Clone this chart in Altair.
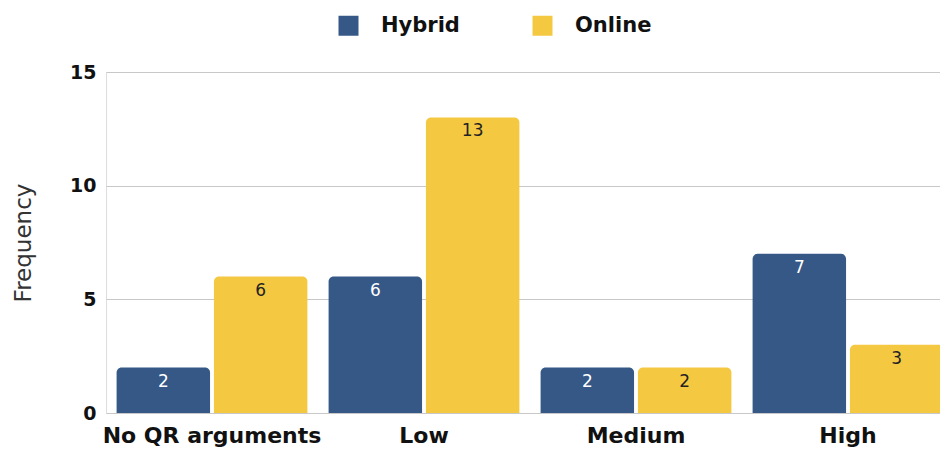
import altair as alt
import pandas as pd

categories = ["No QR arguments", "Low", "Medium", "High"]
series = ["Hybrid", "Online"]
hybrid = [2, 6, 2, 7]
online = [6, 13, 2, 3]

rows = []
for c, h, o in zip(categories, hybrid, online):
    rows.append({"cat": c, "mode": "Hybrid", "value": h})
    rows.append({"cat": c, "mode": "Online", "value": o})
df = pd.DataFrame(rows)

FONT = "DejaVu Sans"
colors = ["#355887", "#f5c842"]

x = alt.X("cat:N", sort=categories, title=None,
          scale=alt.Scale(range=[0, 848], paddingInner=0.1, paddingOuter=0.05),
          axis=alt.Axis(labelAngle=0, labelFont=FONT, labelFontSize=22, labelFontWeight="bold",
                        labelColor="#111111", domain=False, ticks=False, labelPadding=12,
                        labelLimit=400, grid=False))
xoff = alt.XOffset("mode:N", sort=series, scale=alt.Scale(paddingInner=0.04))

base = alt.Chart(df)

bars = base.mark_bar(cornerRadiusTopLeft=5, cornerRadiusTopRight=5).encode(
    x=x,
    xOffset=xoff,
    y=alt.Y("value:Q", stack=None, scale=alt.Scale(domain=[0, 15], nice=False), title="Frequency",
            axis=alt.Axis(values=[0, 5, 10, 15], labelFont=FONT, labelFontSize=19,
                          labelFontWeight="bold", labelColor="#111111", domain=False,
                          ticks=False, labelPadding=10, gridColor="#c8c8c8", gridWidth=1,
                          titleFont=FONT, titleFontSize=23, titleFontWeight="normal",
                          titleColor="#333333", titlePadding=34)),
    color=alt.Color("mode:N", sort=series, scale=alt.Scale(domain=series, range=colors),
                    legend=alt.Legend(title=None, orient="none", direction="horizontal",
                                      legendX=232, legendY=-57, symbolType="square",
                                      symbolSize=400, symbolStrokeWidth=0, labelFont=FONT,
                                      labelFontSize=21, labelFontWeight="bold",
                                      labelColor="#111111", labelOffset=22,
                                      columnPadding=72, padding=0)),
)

text = base.mark_text(baseline="middle", dy=14, font=FONT, fontSize=17).encode(
    x=x,
    xOffset=xoff,
    y=alt.Y("value:Q", stack=None),
    text=alt.Text("value:Q"),
    color=alt.Color("mode:N", sort=series,
                    scale=alt.Scale(domain=series, range=["#ffffff", "#222222"]), legend=None),
)

chart = alt.layer(bars, text).resolve_scale(color="independent").properties(
    width=834, height=341,
    autosize=alt.AutoSizeParams(type="none"),
    padding={"left": 106, "top": 72, "right": 0, "bottom": 38},
).configure_view(stroke=None).configure(background="#ffffff")

chart.save("out.html", embed_options={"renderer": "svg", "actions": False})
